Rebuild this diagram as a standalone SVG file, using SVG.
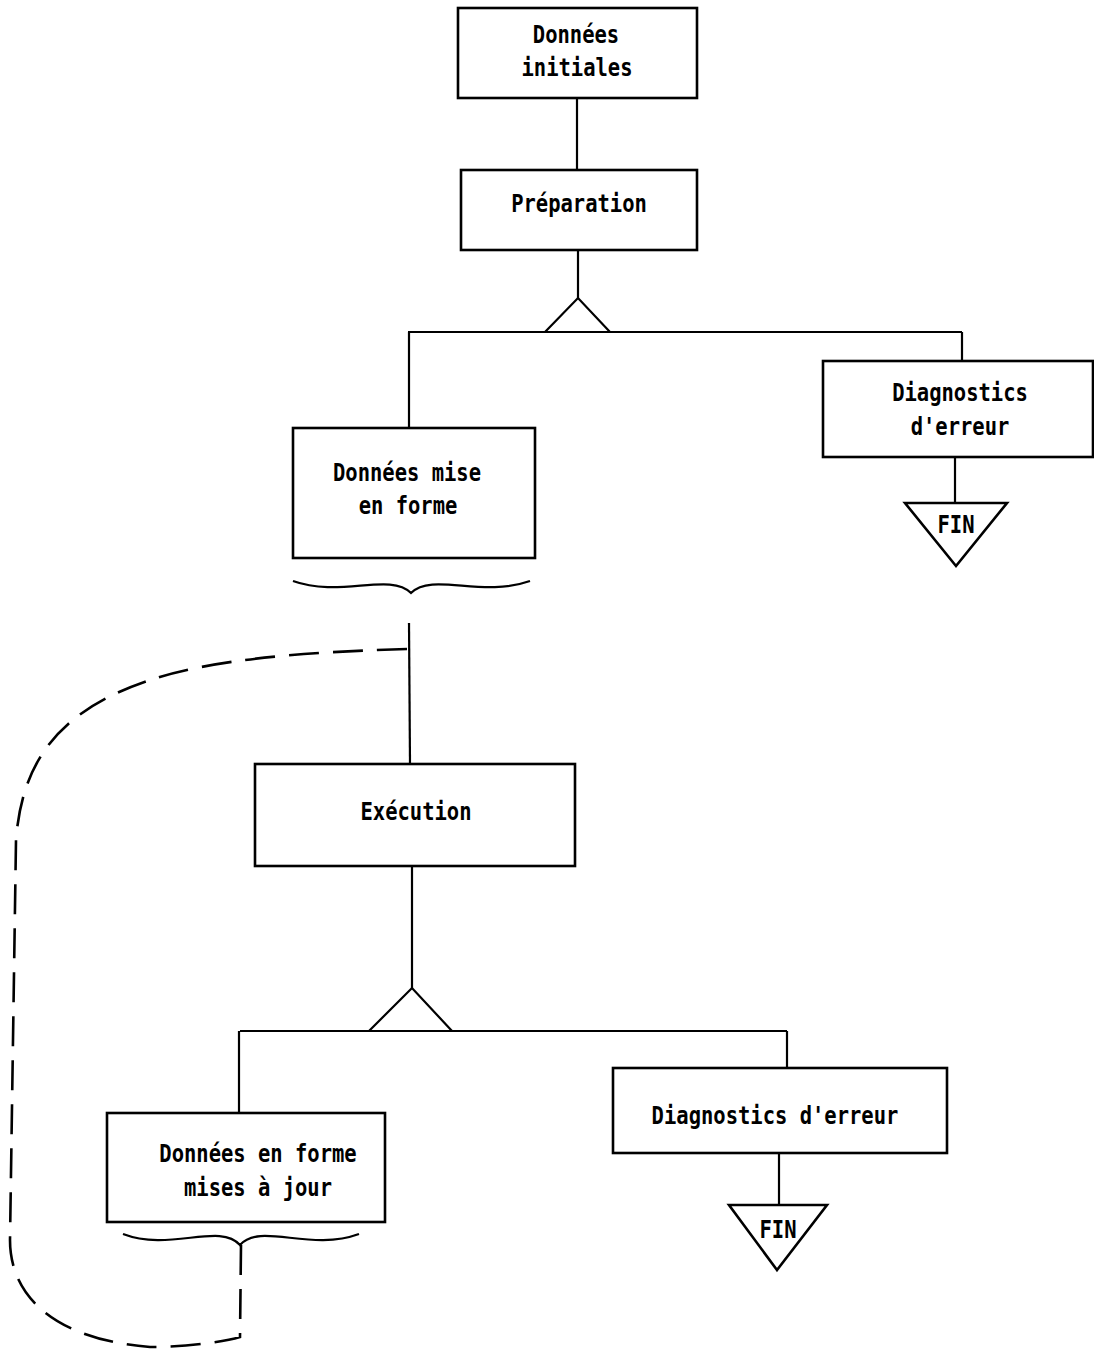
<svg xmlns="http://www.w3.org/2000/svg" width="1094" height="1351" viewBox="0 0 1094 1351">
<style>
.box{fill:none;stroke:#000;stroke-width:2.6}
.ln{fill:none;stroke:#000;stroke-width:2.2}
.dash{fill:none;stroke:#000;stroke-width:2.6;stroke-dasharray:30 14}
.t{font-family:"DejaVu Sans Mono","Liberation Mono",monospace;font-weight:bold;font-size:20.5px;fill:#000;text-anchor:middle}
</style>
<rect width="1094" height="1351" fill="#fff"/>
<g id="connectors">
<line class="ln" x1="577" y1="98" x2="577" y2="170"/>
<line class="ln" x1="578" y1="250" x2="578" y2="298"/>
<path class="ln" d="M545,332 L578,298 L610,332"/>
<line class="ln" x1="408" y1="332" x2="962" y2="332"/>
<line class="ln" x1="409" y1="332" x2="409" y2="428"/>
<line class="ln" x1="962" y1="332" x2="962" y2="361"/>
<line class="ln" x1="955" y1="457" x2="955" y2="503"/>
<path class="ln" d="M293,581 C340,598 390,572 411,593 C432,572 482,598 530,581"/>
<line class="ln" x1="409" y1="623" x2="410" y2="764"/>
<line class="ln" x1="412" y1="866" x2="412" y2="988"/>
<path class="ln" d="M369,1031 L412,988 L452,1031"/>
<line class="ln" x1="240" y1="1031" x2="787" y2="1031"/>
<line class="ln" x1="239" y1="1031" x2="239" y2="1113"/>
<line class="ln" x1="787" y1="1031" x2="787" y2="1068"/>
<line class="ln" x1="779" y1="1153" x2="779" y2="1205"/>
<path class="ln" d="M123,1234 C170,1252 220,1222 240,1245 C260,1222 310,1252 359,1234"/>
<path class="dash" d="M407,649 C300,652 210,660 150,680 C60,710 22,760 16,840 L10,1240 C10,1300 60,1340 150,1347 C180,1347 220,1343 240,1337 L241,1245"/>
</g>
<g id="n1"><rect class="box" x="458" y="8" width="239" height="90"/>
<text class="t" transform="translate(576,43) scale(1,1.22)">Données</text><text class="t" transform="translate(577,76) scale(1,1.22)">initiales</text></g>
<g id="n2"><rect class="box" x="461" y="170" width="236" height="80"/>
<text class="t" transform="translate(579,212) scale(1,1.22)">Préparation</text></g>
<g id="n3"><rect class="box" x="293" y="428" width="242" height="130"/>
<text class="t" transform="translate(407,481) scale(1,1.22)">Données mise</text><text class="t" transform="translate(408,514) scale(1,1.22)">en forme</text></g>
<g id="n4"><rect class="box" x="823" y="361" width="270" height="96"/>
<text class="t" transform="translate(960,401) scale(1,1.22)">Diagnostics</text><text class="t" transform="translate(960,435) scale(1,1.22)">d'erreur</text></g>
<g id="n5"><path class="box" d="M905,503 L1007,503 L956,566 Z"/>
<text class="t" transform="translate(956,533) scale(1,1.22)">FIN</text></g>
<g id="n6"><rect class="box" x="255" y="764" width="320" height="102"/>
<text class="t" transform="translate(416,820) scale(1,1.22)">Exécution</text></g>
<g id="n7"><rect class="box" x="107" y="1113" width="278" height="109"/>
<text class="t" transform="translate(258,1162) scale(1,1.22)">Données en forme</text><text class="t" transform="translate(258,1196) scale(1,1.22)">mises à jour</text></g>
<g id="n8"><rect class="box" x="613" y="1068" width="334" height="85"/>
<text class="t" transform="translate(775,1124) scale(1,1.22)">Diagnostics d'erreur</text></g>
<g id="n9"><path class="box" d="M729,1205 L827,1205 L777,1270 Z"/>
<text class="t" transform="translate(778,1238) scale(1,1.22)">FIN</text></g>
</svg>
